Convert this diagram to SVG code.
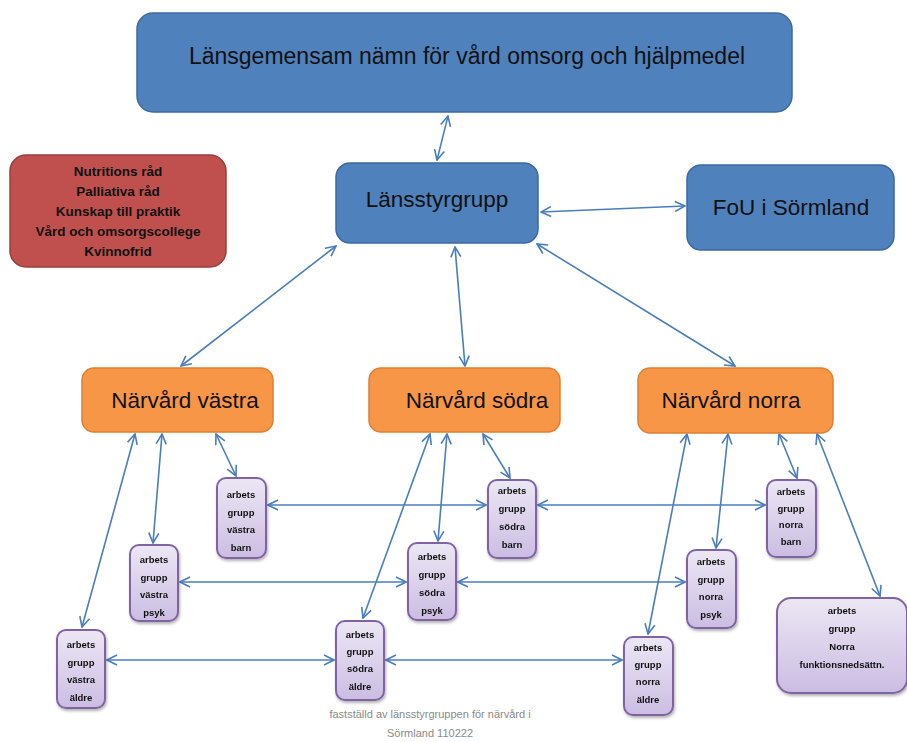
<svg xmlns="http://www.w3.org/2000/svg" width="907" height="742" viewBox="0 0 907 742">
<style>
.blue{fill:#4f81bd;stroke:#3b6aa3;stroke-width:1.5}
.red{fill:#c0504d;stroke:#9c3e3b;stroke-width:1.5}
.orange{fill:#f79646;stroke:#e07f30;stroke-width:1.5}
.purple{fill:url(#pg);stroke:#8064a2;stroke-width:2}
.t{font-family:"Liberation Sans",Arial,sans-serif;fill:#111;text-anchor:middle}
.big{font-size:23px}
.mid{font-size:22.5px}
.rt{font-size:13.5px;font-weight:bold}
.st{font-size:9.5px;font-weight:bold}
.cap{font-family:"Liberation Sans",Arial,sans-serif;font-size:11px;fill:#8a8a8a;text-anchor:middle}
.c{stroke:#4a7ebb;stroke-width:1.6;fill:none;marker-start:url(#ah);marker-end:url(#ah)}
</style>
<defs>
<linearGradient id="pg" x1="0" y1="0" x2="0" y2="1">
<stop offset="0" stop-color="#ece7f4"/>
<stop offset="1" stop-color="#cbbde2"/>
</linearGradient>
<filter id="sh" x="-20%" y="-20%" width="140%" height="140%">
<feDropShadow dx="1" dy="2" stdDeviation="1.5" flood-color="#000" flood-opacity="0.3"/>
</filter>
<marker id="ah" viewBox="0 0 12 12" refX="11" refY="6" markerWidth="12" markerHeight="12" markerUnits="userSpaceOnUse" orient="auto-start-reverse">
<path d="M1,1 L11,6 L1,11" fill="none" stroke="#4a7ebb" stroke-width="1.6"/>
</marker>
</defs>

<g id="connectors">
<line class="c" x1="448" y1="116" x2="437" y2="160"/>
<line class="c" x1="541" y1="212" x2="685" y2="206"/>
<line class="c" x1="336" y1="246" x2="181" y2="366"/>
<line class="c" x1="455" y1="247" x2="465" y2="366"/>
<line class="c" x1="537" y1="244" x2="735" y2="366"/>
<line class="c" x1="216" y1="434" x2="236" y2="476"/>
<line class="c" x1="162" y1="434" x2="153" y2="543"/>
<line class="c" x1="135" y1="434" x2="82" y2="627"/>
<line class="c" x1="483" y1="434" x2="510" y2="478"/>
<line class="c" x1="447" y1="434" x2="438" y2="541"/>
<line class="c" x1="430" y1="434" x2="363" y2="618"/>
<line class="c" x1="779" y1="434" x2="797" y2="478"/>
<line class="c" x1="728" y1="434" x2="716" y2="548"/>
<line class="c" x1="687" y1="434" x2="648" y2="634"/>
<line class="c" x1="817" y1="434" x2="880" y2="596"/>
<line class="c" x1="268" y1="505" x2="486" y2="505"/>
<line class="c" x1="538" y1="505" x2="765" y2="505"/>
<line class="c" x1="180" y1="582" x2="406" y2="582"/>
<line class="c" x1="458" y1="582" x2="685" y2="582"/>
<line class="c" x1="107" y1="660" x2="334" y2="660"/>
<line class="c" x1="386" y1="660" x2="622" y2="660"/>
</g>

<g id="top">
<rect class="blue" x="137" y="13" width="655" height="99" rx="16"/>
<text class="t big" x="467" y="64">Länsgemensam nämn för vård omsorg och hjälpmedel</text>
</g>
<g id="lansstyrgrupp">
<rect class="blue" x="336" y="163" width="202" height="80" rx="14"/>
<text class="t mid" x="437" y="207">Länsstyrgrupp</text>
</g>
<g id="fou">
<rect class="blue" x="687" y="165" width="207" height="85" rx="14"/>
<text class="t mid" x="791" y="215">FoU i Sörmland</text>
</g>
<g id="rad">
<rect class="red" x="10" y="155" width="216" height="112" rx="16"/>
<text class="t rt" x="118" y="176">Nutritions råd</text>
<text class="t rt" x="118" y="196">Palliativa råd</text>
<text class="t rt" x="118" y="216">Kunskap  till praktik</text>
<text class="t rt" x="118" y="236">Vård och omsorgscollege</text>
<text class="t rt" x="118" y="256">Kvinnofrid</text>
</g>

<g id="narvard-vastra">
<rect class="orange" x="82" y="368" width="191" height="64" rx="12"/>
<text class="t mid" x="185" y="408">Närvård västra</text>
</g>
<g id="narvard-sodra">
<rect class="orange" x="369" y="368" width="191" height="64" rx="12"/>
<text class="t mid" x="477" y="408">Närvård södra</text>
</g>
<g id="narvard-norra">
<rect class="orange" x="638" y="368" width="195" height="65" rx="12"/>
<text class="t mid" x="731" y="408">Närvård norra</text>
</g>

<g id="vastra-barn" filter="url(#sh)">
<rect class="purple" x="217" y="478" width="49" height="80" rx="9"/>
<text class="t st" x="241" y="498">arbets</text>
<text class="t st" x="241" y="516">grupp</text>
<text class="t st" x="241" y="533">västra</text>
<text class="t st" x="241" y="551">barn</text>
</g>
<g id="vastra-psyk" filter="url(#sh)">
<rect class="purple" x="130" y="545" width="48" height="76" rx="9"/>
<text class="t st" x="154" y="563">arbets</text>
<text class="t st" x="154" y="581">grupp</text>
<text class="t st" x="154" y="598">västra</text>
<text class="t st" x="154" y="616">psyk</text>
</g>
<g id="vastra-aldre" filter="url(#sh)">
<rect class="purple" x="57" y="630" width="48" height="78" rx="9"/>
<text class="t st" x="81" y="648">arbets</text>
<text class="t st" x="81" y="666">grupp</text>
<text class="t st" x="81" y="683">västra</text>
<text class="t st" x="81" y="701">äldre</text>
</g>
<g id="sodra-barn" filter="url(#sh)">
<rect class="purple" x="488" y="480" width="48" height="78" rx="9"/>
<text class="t st" x="512" y="494">arbets</text>
<text class="t st" x="512" y="512">grupp</text>
<text class="t st" x="512" y="530">södra</text>
<text class="t st" x="512" y="548">barn</text>
</g>
<g id="sodra-psyk" filter="url(#sh)">
<rect class="purple" x="408" y="543" width="48" height="77" rx="9"/>
<text class="t st" x="432" y="560">arbets</text>
<text class="t st" x="432" y="578">grupp</text>
<text class="t st" x="432" y="596">södra</text>
<text class="t st" x="432" y="614">psyk</text>
</g>
<g id="sodra-aldre" filter="url(#sh)">
<rect class="purple" x="336" y="621" width="48" height="79" rx="9"/>
<text class="t st" x="360" y="638">arbets</text>
<text class="t st" x="360" y="655">grupp</text>
<text class="t st" x="360" y="672">södra</text>
<text class="t st" x="360" y="690">äldre</text>
</g>
<g id="norra-barn" filter="url(#sh)">
<rect class="purple" x="767" y="480" width="49" height="77" rx="9"/>
<text class="t st" x="791" y="495">arbets</text>
<text class="t st" x="791" y="512">grupp</text>
<text class="t st" x="791" y="528">norra</text>
<text class="t st" x="791" y="545">barn</text>
</g>
<g id="norra-psyk" filter="url(#sh)">
<rect class="purple" x="687" y="550" width="49" height="78" rx="9"/>
<text class="t st" x="711" y="565">arbets</text>
<text class="t st" x="711" y="583">grupp</text>
<text class="t st" x="711" y="600">norra</text>
<text class="t st" x="711" y="618">psyk</text>
</g>
<g id="norra-aldre" filter="url(#sh)">
<rect class="purple" x="624" y="637" width="49" height="78" rx="9"/>
<text class="t st" x="648" y="651">arbets</text>
<text class="t st" x="648" y="668">grupp</text>
<text class="t st" x="648" y="685">norra</text>
<text class="t st" x="648" y="703">äldre</text>
</g>
<g id="norra-funktion" filter="url(#sh)">
<rect class="purple" x="777" y="598" width="130" height="95" rx="14"/>
<text class="t st" x="842" y="614">arbets</text>
<text class="t st" x="842" y="632">grupp</text>
<text class="t st" x="842" y="650">Norra</text>
<text class="t st" x="842" y="668">funktionsnedsättn.</text>
</g>

<g id="caption">
<text class="cap" x="430" y="718">fastställd av länsstyrgruppen för närvård i</text>
<text class="cap" x="430" y="737">Sörmland 110222</text>
</g>
</svg>
